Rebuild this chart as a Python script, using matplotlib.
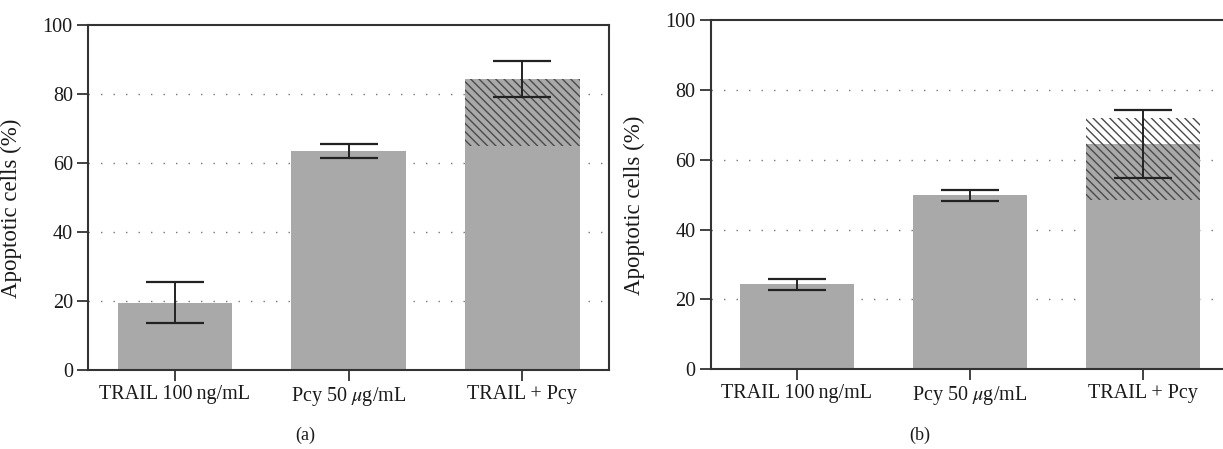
import matplotlib.pyplot as plt
import numpy as np

plt.rcParams['font.family'] = ['Liberation Serif', 'DejaVu Serif']
plt.rcParams['mathtext.fontset'] = 'stix'
plt.rcParams['hatch.linewidth'] = 1.0

groups = ['TRAIL 100\u2009ng/mL', r'Pcy 50 $\mu$g/mL', 'TRAIL + Pcy']

# panel (a)
mean_a = [19.5, 63.5, 84.4]
err_a = [5.9, 2.0, 5.2]
hatch_a = (65.0, 84.5)

# panel (b)
mean_b = [24.3, 49.8, 64.5]
err_b = [1.6, 1.5, 9.8]
hatch_b = (48.4, 71.9)

bar_grey = '#a9a9a9'
spine_col = '#333333'
text_col = '#1a1a1a'


def panel(ax, means, errs, hatch_span, right_spine=True):
    x = np.arange(len(means))
    ax.bar(x, means, width=0.66, color=bar_grey, zorder=2)
    lo, hi = hatch_span
    ax.bar(x[-1], hi - lo, bottom=lo, width=0.66, color='none',
           edgecolor='#4a4a4a', hatch='\\\\\\\\', linewidth=0, zorder=3)
    ax.errorbar(x, means, yerr=errs, fmt='none', ecolor='#222222',
                elinewidth=1.4, capsize=21, capthick=1.6, zorder=4)
    ax.set_xlim(-0.5, 2.5)
    ax.set_ylim(0, 100)
    ax.set_yticks(range(0, 101, 20))
    ax.set_xticks(x)
    ax.set_xticklabels(groups)
    for v in range(20, 100, 20):
        ax.axhline(v, color='#777777', linestyle=(0, (1, 8)), linewidth=1.0, zorder=1)
    ax.tick_params(axis='both', direction='out', length=8, width=1.3,
                   color=spine_col, labelcolor=text_col, labelsize=14.5, pad=3)
    for s in ax.spines.values():
        s.set_linewidth(1.5)
        s.set_color(spine_col)
    ax.spines['right'].set_visible(right_spine)
    ax.set_ylabel('Apoptotic cells (%)', fontsize=16.5, color=text_col)
    ax.yaxis.set_label_coords(-0.126, 0.47)


fig = plt.figure(figsize=(12.23, 4.49), dpi=100)
ax1 = fig.add_axes([0.072, 0.176, 0.426, 0.768])
ax2 = fig.add_axes([0.581, 0.178, 0.424, 0.777])
panel(ax1, mean_a, err_a, hatch_a)
panel(ax2, mean_b, err_b, hatch_b)

# sub-figure tags, centred under each panel block
fig.text(0.250, 0.030, '(a)', ha='center', va='center', fontsize=13, color=text_col)
fig.text(0.752, 0.030, '(b)', ha='center', va='center', fontsize=13, color=text_col)

fig.savefig('out.png', dpi=100)
